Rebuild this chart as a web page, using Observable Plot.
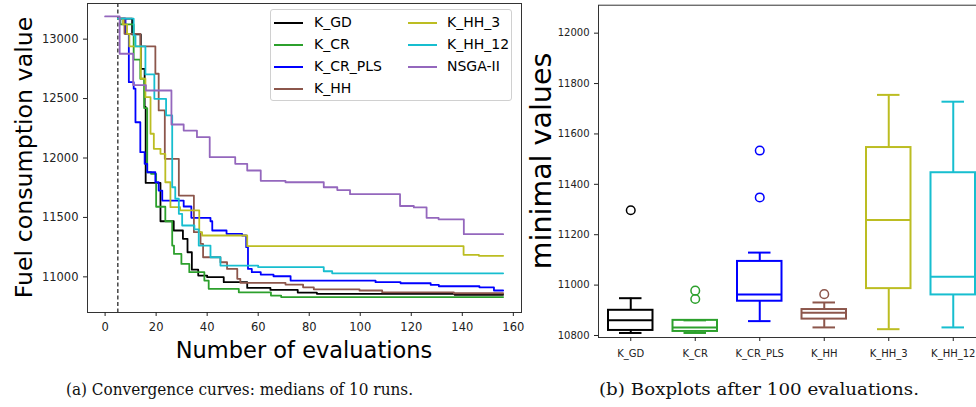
<!DOCTYPE html>
<html><head><meta charset="utf-8">
<script src="https://cdn.jsdelivr.net/npm/d3@7"></script>
<script src="https://cdn.jsdelivr.net/npm/@observablehq/plot@0.6"></script>
<style>
html,body{margin:0;padding:0;background:#fff;overflow:hidden;}
#fig{position:relative;width:976px;height:407px;overflow:hidden;font-family:"DejaVu Sans",sans-serif;}
#fig svg{max-width:none;}
#left{position:absolute;left:0;top:0;width:530px;height:370px;}
#right{position:absolute;left:530px;top:0;width:530px;height:370px;}
.legend{position:absolute;left:270px;top:9px;width:242px;height:92px;box-sizing:border-box;border:1px solid #d0d0d0;border-radius:3px;background:rgba(255,255,255,0.85);}
.li{position:absolute;height:2px;width:29px;}
.lt{position:absolute;font-size:14px;line-height:14px;color:#000;white-space:nowrap;}
.cap{position:absolute;top:381px;font-family:"DejaVu Serif",serif;font-size:16px;line-height:18px;white-space:nowrap;color:#111;transform-origin:0 0;}
</style></head>
<body>
<div id="fig">
  <div id="left"></div>
  <div id="right"></div>
  <div class="legend" id="legend"></div>
  <div class="cap" id="capA">(a) Convergence curves: medians of 10 runs.</div>
  <div class="cap" id="capB">(b) Boxplots after 100 evaluations.</div>
</div>
<script>
// ---------- Data: convergence curves (median of 10 runs) ----------
const seriesNames = ["K_GD", "K_CR", "K_CR_PLS", "K_HH", "K_HH_3", "K_HH_12", "NSGA-II"];
const seriesColors = ["#000000", "#2ca02c", "#0000ff", "#8c564b", "#bcbd22", "#17becf", "#9467bd"];

const evals_K_GD = [5, 10.6, 14, 15.5, 15.9, 21.7, 26.9, 30.5, 32.3, 34, 36.5, 40, 46.5, 55.7, 64.8, 75.5, 83, 137, 156];
const fuel_K_GD  = [13172, 13040, 12750, 12430, 11790, 11468, 11390, 11320, 11207, 11060, 11011, 10997, 10955, 10907, 10890, 10868, 10857, 10849, 10849];

const evals_K_CR = [5, 6, 11.2, 13.8, 15.3, 16.5, 18, 20, 23.6, 26.3, 27, 29.9, 33, 38.9, 40.6, 52.4, 65, 69, 156];
const fuel_K_CR  = [13172, 13124, 12827, 12667, 12420, 11880, 11867, 11590, 11468, 11263, 11193, 11109, 11039, 10969, 10899, 10870, 10842, 10830, 10830];

const evals_K_CR_PLS = [5, 8, 9.3, 11.2, 11.9, 13.8, 15.5, 16.5, 19.7, 21, 22.4, 30.8, 33.8, 41.3, 42, 47.6, 53.7, 55.3, 56, 57.5, 61, 66, 72.7, 106, 115.8, 127.6, 130.8, 146.7, 152.4, 156];
const fuel_K_CR_PLS  = [13172, 13045, 12638, 12583, 12301, 12049, 11951, 11880, 11796, 11726, 11642, 11592, 11497, 11468, 11390, 11362, 11348, 11250, 11067, 11039, 11019, 11005, 10969, 10955, 10946, 10933, 10921, 10912, 10885, 10885];

const evals_K_HH = [5, 7.6, 13.8, 19.7, 21, 23.4, 28.9, 34.8, 37.4, 38.4, 45.2, 47.8, 51.8, 53, 70.7, 77.6, 81.8, 99.7, 108.6, 136.7, 156];
const fuel_K_HH  = [13172, 13045, 12939, 12709, 12400, 11993, 11684, 11376, 11278, 11165, 11123, 11067, 10983, 10950, 10935, 10912, 10895, 10885, 10870, 10862, 10862];

const evals_K_HH_3 = [5, 7, 8.6, 9.5, 14, 15.8, 17.8, 19.1, 21.7, 23.6, 25.6, 29.4, 36.9, 38, 55.7, 140.5, 146.5, 156];
const fuel_K_HH_3  = [13172, 13124, 13045, 12939, 12667, 12512, 12204, 12077, 12035, 11796, 11586, 11560, 11376, 11348, 11258, 11185, 11177, 11177];

const evals_K_HH_12 = [5, 11.2, 11.9, 15.8, 19.3, 23.9, 26.3, 27.5, 28.9, 30.2, 35, 36.7, 41.3, 45.2, 60, 85.7, 89, 156];
const fuel_K_HH_12  = [13172, 13031, 12939, 12703, 12498, 12358, 11754, 11657, 11530, 11432, 11400, 11263, 11165, 11095, 11081, 11047, 11030, 11030];

const evals_NSGA = [0, 5.7, 11, 16, 26, 30.8, 36, 41, 51, 55.7, 61, 70.7, 85.7, 91, 96, 115.6, 121, 126, 130.7, 140.6, 156];
const fuel_NSGA  = [13191, 12877, 12614, 12568, 12282, 12231, 12175, 12007, 11951, 11895, 11808, 11796, 11754, 11730, 11696, 11596, 11584, 11497, 11484, 11359, 11359];

const budgetX = [5];
const xTicksLeft = [0, 20, 40, 60, 80, 100, 120, 140, 160];
const yTicksLeft = [11000, 11500, 12000, 12500, 13000];

// ---------- Data: boxplots after 100 evaluations ----------
const boxCatsAll = ["K_GD", "K_CR", "K_CR_PLS", "K_HH", "K_HH_3", "K_HH_12", "NSGA-II"];
const boxCats     = ["K_GD", "K_CR", "K_CR_PLS", "K_HH", "K_HH_3", "K_HH_12"];
const boxColors   = ["#000000", "#2ca02c", "#0000ff", "#8c564b", "#bcbd22", "#17becf"];
const whiskerLow  = [10810, 10810, 10857, 10832, 10825, 10832];
const q1          = [10820, 10816, 10936, 10865, 10986, 10961];
const median      = [10860, 10832, 10963, 10890, 11258, 11033];
const q3          = [10900, 10860, 11094, 10903, 11546, 11446];
const whiskerHigh = [10948, 10860, 11129, 10931, 11755, 11728];
const outlierCat   = ["K_GD", "K_CR", "K_CR", "K_CR_PLS", "K_CR_PLS", "K_HH"];
const outlierVal   = [11297, 10978, 10945, 11534, 11348, 10964];
const outlierColor = ["#000000", "#2ca02c", "#2ca02c", "#0000ff", "#0000ff", "#8c564b"];
const yTicksRight = [10800, 11000, 11200, 11400, 11600, 11800, 12000];

// ---------- Build rows ----------
const evalArrays = [evals_K_GD, evals_K_CR, evals_K_CR_PLS, evals_K_HH, evals_K_HH_3, evals_K_HH_12, evals_NSGA];
const fuelArrays = [fuel_K_GD, fuel_K_CR, fuel_K_CR_PLS, fuel_K_HH, fuel_K_HH_3, fuel_K_HH_12, fuel_NSGA];
const rows = [];
seriesNames.forEach((s, i) => {
  evalArrays[i].forEach((x, j) => rows.push({s, c: seriesColors[i], x, y: fuelArrays[i][j]}));
});

const fmt = d3.format("d");

const left = Plot.plot({
  width: 530, height: 370,
  marginLeft: 87, marginRight: 9, marginTop: 3, marginBottom: 58,
  x: {domain: [-6.9, 163.2]},
  y: {domain: [10700, 13300]},
  color: {type: "identity"},
  style: {fontFamily: "DejaVu Sans", fontSize: "11.5px", color: "#222", background: "transparent", overflow: "visible"},
  marks: [
    Plot.ruleX(budgetX, {stroke: "#000", strokeWidth: 1.1, strokeDasharray: "4,2.5"}),
    Plot.line(rows, {x: "x", y: "y", z: "s", stroke: "c", curve: "step-after", strokeWidth: 1.8}),
    Plot.frame({stroke: "#333", strokeWidth: 1}),
    Plot.axisX({ticks: xTicksLeft, tickSize: 4, tickPadding: 6, tickFormat: fmt, label: null, fontSize: 11.5}),
    Plot.axisY({ticks: yTicksLeft, tickSize: 4, tickPadding: 5, tickFormat: fmt, label: null, fontSize: 11.5})
  ]
});
document.getElementById("left").appendChild(left);
const ls = d3.select(left);
ls.append("text").attr("x", 304).attr("y", 358).attr("text-anchor", "middle")
  .attr("font-family", "DejaVu Sans").attr("font-size", 22.5).attr("fill", "#000").text("Number of evaluations");
ls.append("text").attr("transform", "translate(32,157.5) rotate(-90)").attr("text-anchor", "middle")
  .attr("font-family", "DejaVu Sans").attr("font-size", 23.7).attr("fill", "#000").text("Fuel consumption value");

const bi = d3.range(boxCats.length);
const oi = d3.range(outlierCat.length);
const right = Plot.plot({
  width: 530, height: 370,
  marginLeft: 68, marginRight: 10.5, marginTop: 4.7, marginBottom: 33,
  x: {type: "band", domain: boxCatsAll, padding: 0, round: false},
  y: {domain: [10792, 12111]},
  color: {type: "identity"},
  style: {fontFamily: "DejaVu Sans", fontSize: "10px", color: "#222", background: "transparent", overflow: "visible"},
  marks: [
    Plot.ruleX(bi, {x: boxCats, y1: whiskerLow, y2: q1, stroke: boxColors, strokeWidth: 2}),
    Plot.ruleX(bi, {x: boxCats, y1: q3, y2: whiskerHigh, stroke: boxColors, strokeWidth: 2}),
    Plot.tickY(bi, {x: boxCats, y: whiskerLow, stroke: boxColors, strokeWidth: 2, insetLeft: 21, insetRight: 21}),
    Plot.tickY(bi, {x: boxCats, y: whiskerHigh, stroke: boxColors, strokeWidth: 2, insetLeft: 21, insetRight: 21}),
    Plot.barY(bi, {x: boxCats, y1: q1, y2: q3, stroke: boxColors, fill: "none", strokeWidth: 2, insetLeft: 10, insetRight: 10}),
    Plot.tickY(bi, {x: boxCats, y: median, stroke: boxColors, strokeWidth: 2, insetLeft: 10, insetRight: 10}),
    Plot.dot(oi, {x: outlierCat, y: outlierVal, stroke: outlierColor, fill: "none", r: 4.3, strokeWidth: 1.5}),
    Plot.frame({stroke: "#333", strokeWidth: 1}),
    Plot.axisX({tickSize: 4, tickPadding: 8, label: null, fontSize: 10}),
    Plot.axisY({ticks: yTicksRight, tickSize: 4, tickPadding: 5, tickFormat: fmt, label: null, fontSize: 10})
  ]
});
document.getElementById("right").appendChild(right);
d3.select(right).append("text").attr("transform", "translate(21,161) rotate(-90)").attr("text-anchor", "middle")
  .attr("font-family", "DejaVu Sans").attr("font-size", 28.5).attr("fill", "#000").text("minimal values");

// ---------- Legend ----------
const leg = document.getElementById("legend");
const legRows = [13, 35, 57, 79];
seriesNames.forEach((s, i) => {
  const col = i < 4 ? 0 : 1;
  const row = col === 0 ? i : i - 4;
  const lx = col === 0 ? 3 : 137;
  const tx = col === 0 ? 43 : 176;
  const line = document.createElement("div");
  line.className = "li";
  line.style.left = lx + "px";
  line.style.top = (legRows[row] - 1) + "px";
  line.style.background = seriesColors[i];
  leg.appendChild(line);
  const t = document.createElement("div");
  t.className = "lt";
  t.textContent = s;
  t.style.left = tx + "px";
  t.style.top = (legRows[row] - 8) + "px";
  leg.appendChild(t);
});

// ---------- Captions: fit widths (horizontal scale only) ----------
function fitCap(id, center, target) {
  const el = document.getElementById(id);
  const w = el.getBoundingClientRect().width;
  const s = target / w;
  el.style.transform = "scaleX(" + s + ")";
  el.style.left = (center - target / 2) + "px";
}
fitCap("capA", 239, 347);
fitCap("capB", 758.5, 320);
</script>
</body></html>
